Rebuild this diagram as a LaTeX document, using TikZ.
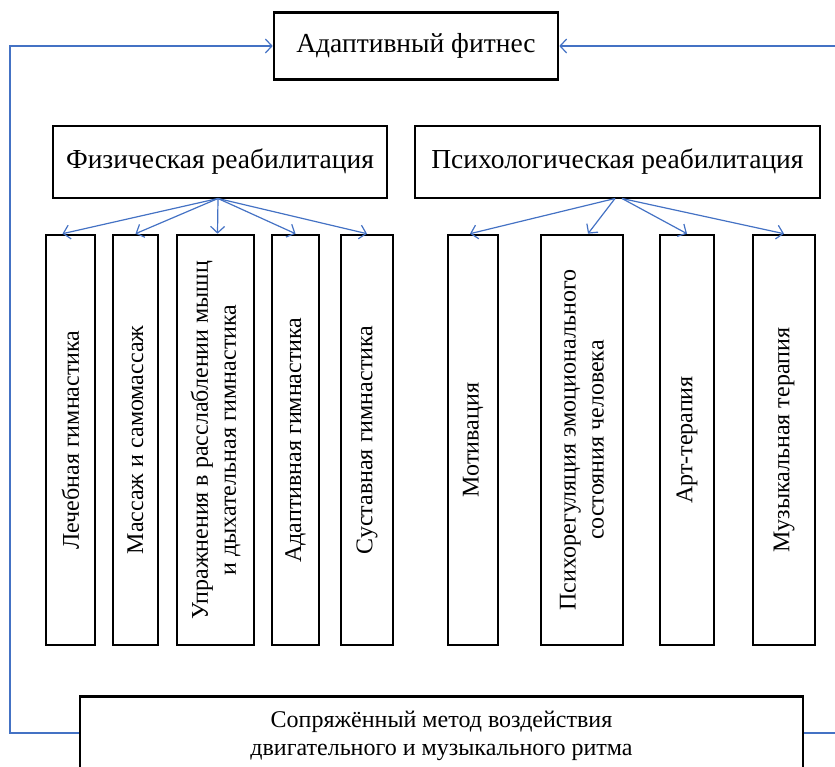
\documentclass[tikz,border=0pt]{standalone}
\usepackage{fontspec}
\setmainfont{Liberation Serif}
\usetikzlibrary{arrows.meta}
\definecolor{lnk}{RGB}{68,114,196}
\begin{document}
\begin{tikzpicture}[x=1pt,y=-1pt,
 box/.style={draw=black,line width=2.6pt,inner sep=0pt,font=\fontsize{24}{28}\selectfont,align=center},
 hbox/.style={box,font=\fontsize{27.5}{29}\selectfont},
 vbox/.style={box,rotate=90,minimum width=410pt},
 conn/.style={draw=lnk,line width=1.2pt,-{Straight Barb[length=6.5pt,width=14pt]}}]
\useasboundingbox (0,0) rectangle (835,766);
\node[hbox,minimum width=284pt,minimum height=67pt] (top) at (416,46) {Адаптивный фитнес};
\node[hbox,minimum width=334pt,minimum height=72pt] (phys) at (220,162) {Физическая реабилитация};
\node[hbox,minimum width=405pt,minimum height=72pt] (psy) at (617.5,162) {Психологическая реабилитация};
\node[vbox,minimum height=49pt] (l1) at (70.5,440) {Лечебная гимнастика};
\node[vbox,minimum height=45pt] (l2) at (135.5,440) {Массаж и самомассаж};
\node[vbox,minimum height=77pt] (l3) at (215.5,440) {Упражнения в расслаблении мышц\\и дыхательная гимнастика};
\node[vbox,minimum height=47pt] (l4) at (295.5,440) {Адаптивная гимнастика};
\node[vbox,minimum height=52pt] (l5) at (367,440) {Суставная гимнастика};
\node[vbox,minimum height=50pt] (r1) at (473,440) {Мотивация};
\node[vbox,minimum height=82pt] (r2) at (582,440) {Психорегуляция эмоционального\\состояния человека};
\node[vbox,minimum height=54pt] (r3) at (687,440) {Арт-терапия};
\node[vbox,minimum height=62pt] (r4) at (784,440) {Музыкальная терапия};
\node[box,anchor=north,minimum width=723pt,minimum height=80pt] (bot) at (441.5,695) {Сопряжённый метод воздействия\\двигательного и музыкального ритма};
\coordinate (ps) at (218,198.5);
\coordinate (qa) at (615,198.5);
\coordinate (qb) at (622,198.5);
\draw[conn] (ps) -- ([xshift=-8pt]l1.east);
\draw[conn] (ps) -- (l2.east);
\draw[conn] (ps) -- ([xshift=2pt]l3.east);
\draw[conn] (ps) -- (l4.east);
\draw[conn] (ps) -- (l5.east);
\draw[conn] (qa) -- ([xshift=-3pt]r1.east);
\draw[conn] (qa) -- ([xshift=6pt]r2.east);
\draw[conn] (qb) -- (r3.east);
\draw[conn] (qb) -- (r4.east);
\coordinate (lc) at (10,733);
\coordinate (rc) at (842,733);
\draw[conn] (bot.west |- 0,733) -- (lc) |- (top.west);
\draw[conn] (bot.east |- 0,733) -- (rc) |- (top.east);
\end{tikzpicture}
\end{document}
